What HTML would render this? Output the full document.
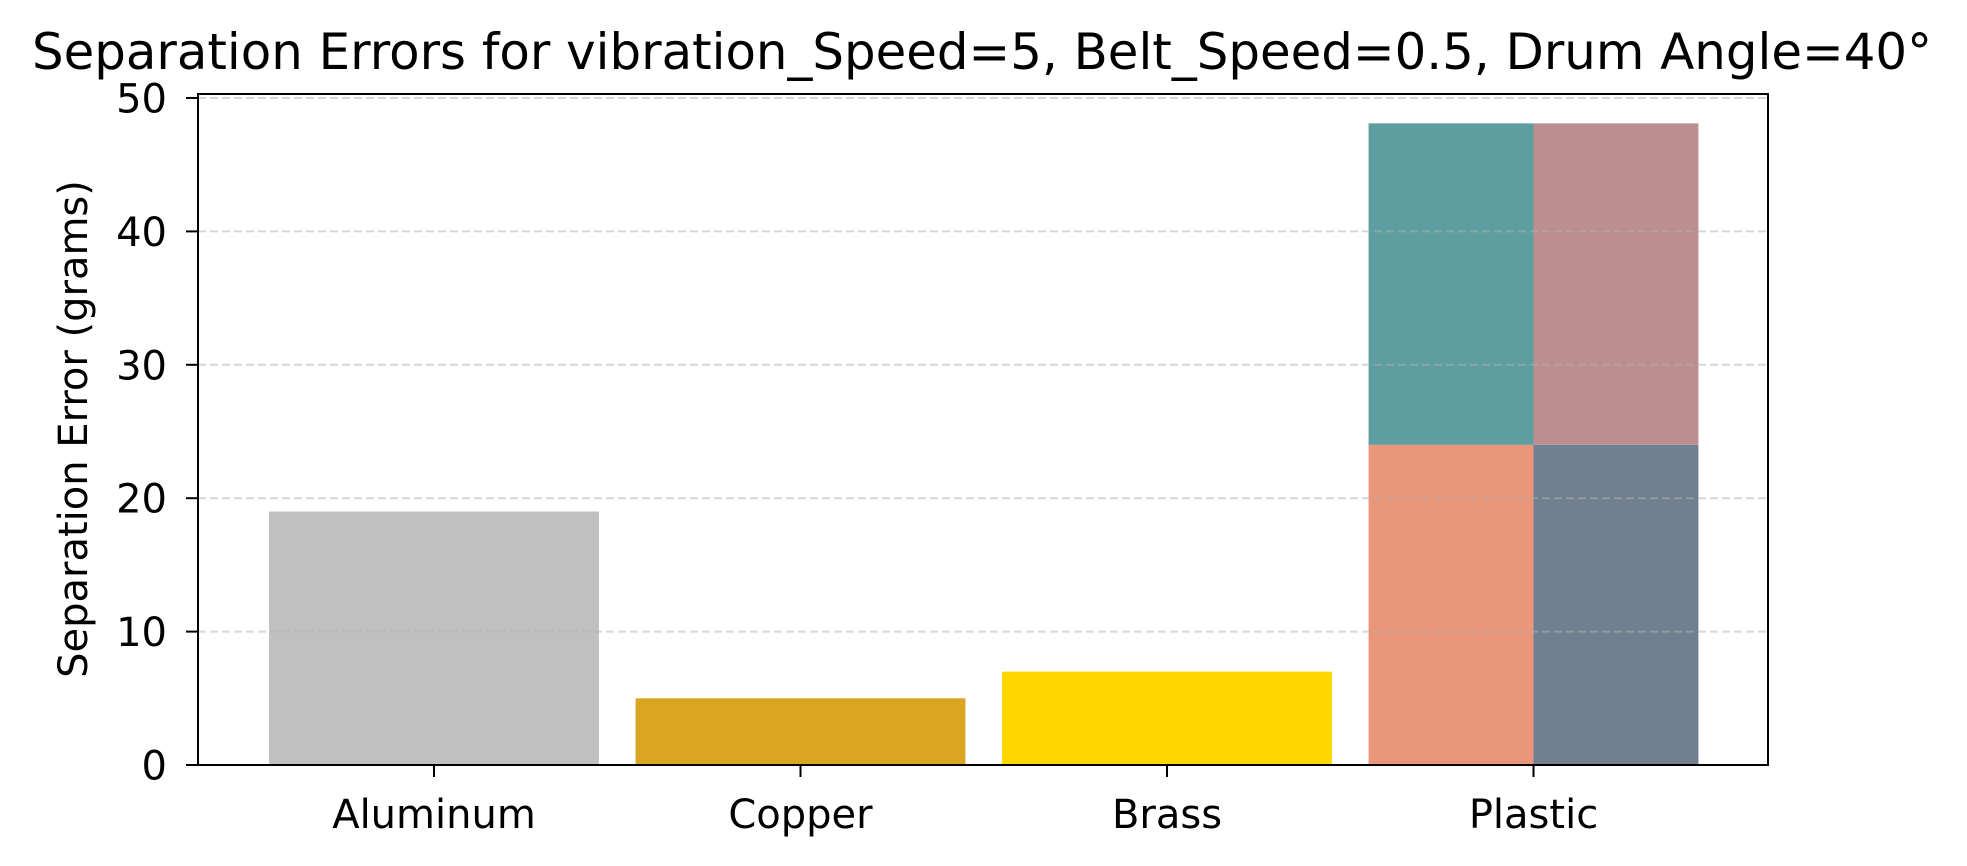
<!DOCTYPE html>
<html><head><meta charset="utf-8"><style>
html,body{margin:0;padding:0;background:#fff;}
svg{display:block;font-family:"DejaVu Sans","Liberation Sans",sans-serif;}
</style></head><body>
<svg id="chart" width="1967" height="866" viewBox="0 0 1967 866" xmlns="http://www.w3.org/2000/svg">
<text x="982" y="69" font-size="50" text-anchor="middle" fill="#000" textLength="1900" lengthAdjust="spacingAndGlyphs">Separation Errors for vibration_Speed=5, Belt_Speed=0.5, Drum Angle=40°</text>
<text transform="translate(87,429) rotate(-90)" font-size="40" text-anchor="middle" fill="#000">Separation Error (grams)</text>
<g id="plot"></g>
</svg>
<script>
const categories = ["Aluminum","Copper","Brass","Plastic"];
const singleValues = [19, 5, 7, null];
const singleColors = ["#c0c0c0","#daa520","#ffd700",null];
const plasticBottom = [24.0, 24.0];
const plasticTop = [24.1, 24.1];
const plasticBottomColors = ["#e9967a","#708090"];
const plasticTopColors = ["#5f9ea0","#bc8f8f"];
const yTicks = [0,10,20,30,40,50];

const NS = "http://www.w3.org/2000/svg";
const L = 198, R = 1768, T = 94, B = 765;
const y = v => B - v / 50 * (B - 98);
const step = 366.5, x0 = 434;
const xc = i => x0 + i * step;
const bw = 0.9 * step;
const g = document.getElementById('plot');
function mk(tag, attrs){const e=document.createElementNS(NS,tag);for(const k in attrs)e.setAttribute(k,attrs[k]);g.appendChild(e);return e;}

singleValues.forEach((v,i)=>{
  if(v===null) return;
  const r = mk('rect',{x:xc(i)-bw/2,y:y(v),width:bw,height:y(0)-y(v),fill:singleColors[i]});
  
  
});
const pi = 3;
plasticBottom.forEach((v,j)=>{
  const left = xc(pi) - bw/2 + j*bw/2;
  const r1 = mk('rect',{x:left,y:y(v),width:bw/2,height:y(0)-y(v),fill:plasticBottomColors[j]});
  
  
  const t = plasticTop[j];
  const r2 = mk('rect',{x:left,y:y(v+t),width:bw/2,height:y(v)-y(v+t),fill:plasticTopColors[j]});
  
  
});
yTicks.forEach(t=>{
  const gl = mk('line',{x1:L,x2:R,y1:y(t),y2:y(t),stroke:'#b0b0b0','stroke-opacity':0.5,'stroke-width':2,'stroke-dasharray':'8,4'});
  
  
  const tk = mk('line',{x1:L-12,x2:L,y1:y(t),y2:y(t),stroke:'#000','stroke-width':2});
  
  
  const tx = mk('text',{x:L-31,y:y(t)+14.5,'font-size':40,'text-anchor':'end',fill:'#000'});
  tx.textContent = t;
  
  
});
categories.forEach((c,i)=>{
  const tk = mk('line',{x1:xc(i),x2:xc(i),y1:B,y2:B+12,stroke:'#000','stroke-width':2});
  
  
  const tx = mk('text',{x:xc(i),y:828,'font-size':40,'text-anchor':'middle',fill:'#000'});
  tx.textContent = c;
  
  
});
const frame = mk('rect',{x:L,y:T,width:R-L,height:B-T,fill:'none',stroke:'#000','stroke-width':2});


</script>
</body></html>
